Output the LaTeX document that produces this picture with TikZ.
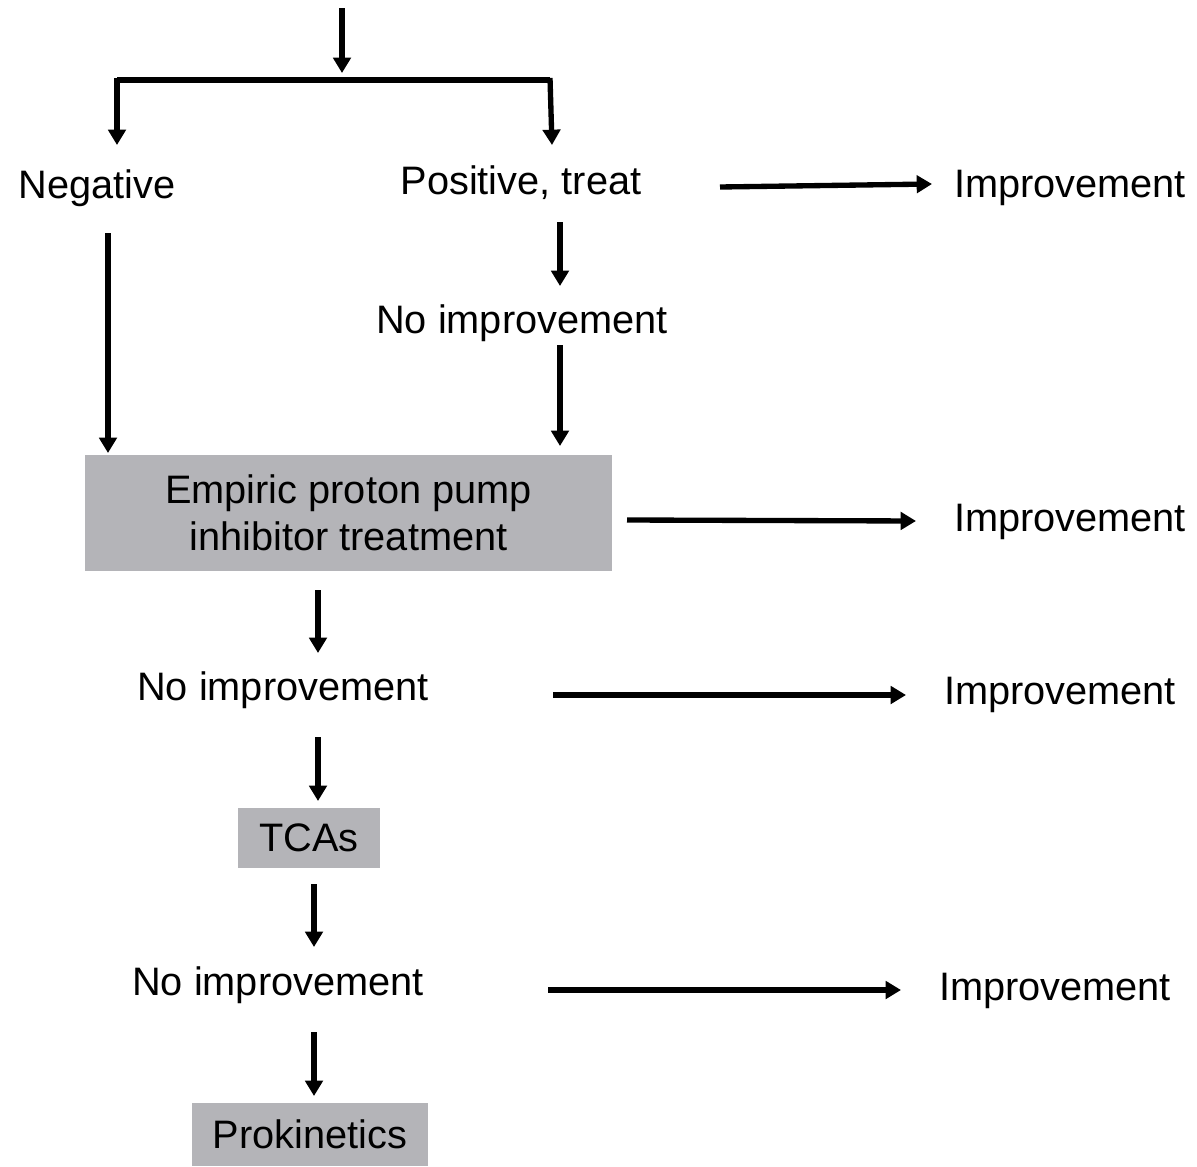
\documentclass[tikz,border=0pt]{standalone}
\usepackage{fontspec}
\setmainfont{Liberation Sans}
\usetikzlibrary{arrows.meta}
\definecolor{boxgray}{RGB}{180,180,184}
\tikzset{
  arr/.style={line width=4pt,-{Triangle[width=13pt,length=11.5pt]}},
  plain/.style={line width=4pt},
  lbl/.style={inner sep=0pt,font=\fontsize{29.8pt}{35.3pt}\selectfont},
  gbox/.style={fill=boxgray,inner sep=0pt,font=\fontsize{29.8pt}{35.3pt}\selectfont,align=center}
}
\begin{document}
\begin{tikzpicture}[x=0.75pt,y=-0.75pt]
\useasboundingbox (0,0) rectangle (1197,1167);
% nodes
\node[lbl] (neg) at (97,188) {Negative};
\node[lbl] (pos) at (521,183) {Positive, treat};
\node[lbl] (imp1) at (1070,188) {Improvement};
\node[lbl] (noimp1) at (522,323) {No improvement};
\node[gbox,minimum width=527*0.75pt,minimum height=116*0.75pt] (ppi) at (348.5,513) {Empiric proton pump\\inhibitor treatment};
\node[lbl] (imp2) at (1070,522) {Improvement};
\node[lbl] (noimp2) at (283,690) {No improvement};
\node[lbl] (imp3) at (1060,695) {Improvement};
\node[gbox,minimum width=142*0.75pt,minimum height=60*0.75pt] (tca) at (309,838) {TCAs};
\node[lbl] (noimp3) at (278,985) {No improvement};
\node[lbl] (imp4) at (1055,991) {Improvement};
\node[gbox,minimum width=236*0.75pt,minimum height=63*0.75pt] (prok) at (310,1134) {Prokinetics};
% coordinates
\coordinate (top) at (342,8);
\coordinate (bl) at (117,80);
\coordinate (br) at (550,80);
% connectors
\draw[arr] (top) -- (342,73);
\draw[plain] (bl) -- (br);
\draw[arr] ([yshift=1.5pt]bl) -- (117,145);
\draw[arr] ([yshift=1.5pt]br) -- (552,145);
\draw[arr] (720,187) -- (932,184);
\draw[arr] (560,222) -- (560,286);
\draw[arr] (560,345) -- (560,446);
\draw[arr] (108,233) -- (108,453);
\draw[arr] (627,520) -- (916,521);
\draw[arr] (318,590) -- (318,653);
\draw[arr] (553,695) -- (906,695);
\draw[arr] (318,737) -- (318,801);
\draw[arr] (314,884) -- (314,947);
\draw[arr] (548,990) -- (901,990);
\draw[arr] (314,1032) -- (314,1096);
\end{tikzpicture}
\end{document}
